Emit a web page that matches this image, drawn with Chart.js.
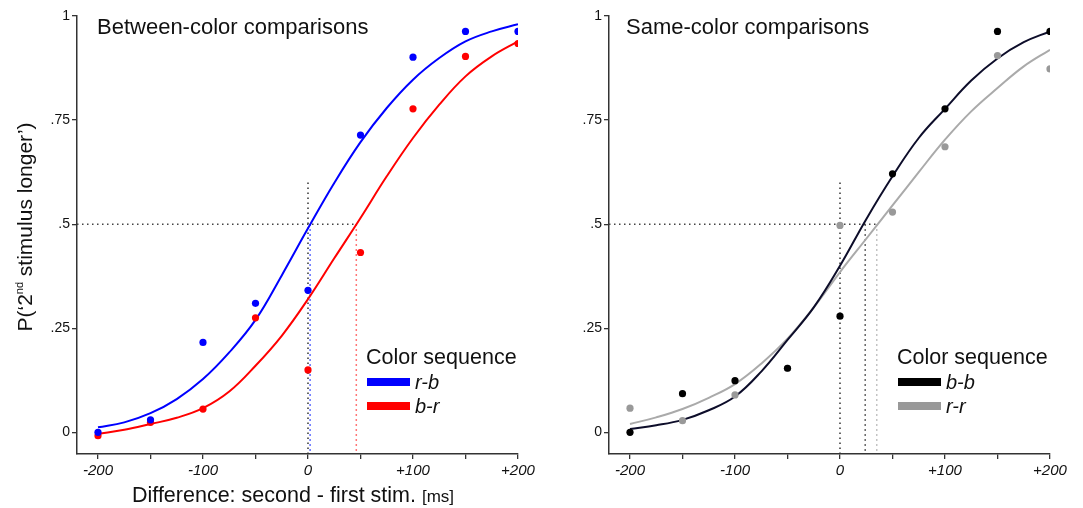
<!DOCTYPE html>
<html>
<head>
<meta charset="utf-8">
<script src="https://cdn.jsdelivr.net/npm/chart.js@4.4.1/dist/chart.umd.min.js"></script>
<style>
  body { margin: 0; background: #fff; width: 1083px; height: 508px; overflow: hidden; position: relative; }
  .panel { position: absolute; top: 0; height: 508px; }
</style>
</head>
<body>
<div class="panel" style="left:0;width:540px"><canvas id="betweenChart"></canvas></div>
<div class="panel" style="left:540px;width:543px"><canvas id="sameChart"></canvas></div>
<script>
// stimulus differences (ms) and observed proportions
const xValues = [-200, -150, -100, -50, 0, 50, 100, 150, 200];
const rbPoints = [0.0, 0.03, 0.216, 0.31, 0.341, 0.714, 0.901, 0.963, 0.963];
const brPoints = [-0.008, 0.024, 0.056, 0.275, 0.15, 0.432, 0.777, 0.903, 0.934];
const bbPoints = [0.0, 0.093, 0.124, 0.154, 0.279, 0.621, 0.777, 0.963, 0.963];
const rrPoints = [0.058, 0.028, 0.09, 0.154, 0.497, 0.529, 0.686, 0.905, 0.873];

// fitted curves, every 25 ms
const curveX = [-200, -175, -150, -125, -100, -75, -50, -25, 0, 25, 50, 75, 100, 125, 150, 175, 200];
const rbCurve = [0.012, 0.024, 0.046, 0.08, 0.128, 0.192, 0.27, 0.377, 0.49, 0.599, 0.697, 0.779, 0.847, 0.899, 0.939, 0.963, 0.98];
const brCurve = [-0.004, 0.006, 0.02, 0.035, 0.058, 0.098, 0.16, 0.232, 0.32, 0.418, 0.515, 0.615, 0.707, 0.787, 0.855, 0.903, 0.939];
const bbCurve = [0.008, 0.017, 0.03, 0.053, 0.086, 0.146, 0.222, 0.3, 0.4, 0.512, 0.615, 0.707, 0.777, 0.845, 0.898, 0.937, 0.963];
const rrCurve = [0.02, 0.036, 0.056, 0.083, 0.116, 0.165, 0.225, 0.3, 0.385, 0.465, 0.545, 0.625, 0.703, 0.771, 0.827, 0.879, 0.919];

// points of subjective equality (curve crosses .5)
const betweenPSE = [2, 46];
const samePSE = [24, 35];
const refLevel = 0.5;
const zeroLineTop = 0.6;

const xTicks = [-200, -150, -100, -50, 0, 50, 100, 150, 200];
const xTickLabels = ['-200', '', '-100', '', '0', '', '+100', '', '+200'];
const yTicks = [0, 0.25, 0.5, 0.75, 1];
const yTickLabels = ['0', '.25', '.5', '.75', '1'];
const xMin = -220, xMax = 200, yMin = -0.052, yMax = 1;

const FONT = "'Liberation Sans', Arial, sans-serif";

function pts(xs, ys) { return xs.map((x, i) => ({ x: x, y: ys[i] })); }

function dotSet(label, xs, ys, color) {
  return { label: label, data: pts(xs, ys), pointRadius: 3.6, pointBackgroundColor: color, pointBorderWidth: 0, showLine: false };
}
function curveSet(label, ys, color) {
  return { label: label, data: pts(curveX, ys), borderColor: color, borderWidth: 2, pointRadius: 0, showLine: true, tension: 0.4 };
}
function dotted(data, color) {
  return { data: data, borderColor: color, borderWidth: 1.5, borderDash: [1.5, 3.5], pointRadius: 0, showLine: true };
}

function textPlugin(cfg) {
  return {
    id: 'texts',
    afterDraw(chart) {
      const ctx = chart.ctx;
      ctx.save();
      ctx.fillStyle = '#111';
      ctx.textBaseline = 'alphabetic';
      ctx.textAlign = 'left';
      ctx.font = '22px ' + FONT;
      ctx.fillText(cfg.title, cfg.titleX, 34);
      // legend
      ctx.font = '21.5px ' + FONT;
      ctx.fillText('Color sequence', cfg.legendX, 364);
      cfg.legend.forEach((item, i) => {
        const cy = 382 + i * 24;
        ctx.fillStyle = item.color;
        ctx.fillRect(cfg.legendX + 1, cy - 4, 43, 8);
        ctx.fillStyle = '#111';
        ctx.font = 'italic 20px ' + FONT;
        ctx.fillText(item.label, cfg.legendX + 49, cy + 7);
      });
      if (cfg.axisTitles) {
        ctx.font = '21.5px ' + FONT;
        const t1 = 'Difference: second - first stim.';
        ctx.fillText(t1, 132, 502);
        const w1 = ctx.measureText(t1 + ' ').width;
        ctx.font = '17px ' + FONT;
        ctx.fillText('[ms]', 132 + w1, 502);
        // y title, rotated, with superscript
        ctx.translate(32, 227);
        ctx.rotate(-Math.PI / 2);
        const a = 'P(\u20182', b = 'nd', c = ' stimulus longer\u2019)';
        ctx.font = '21px ' + FONT;
        const wa = ctx.measureText(a).width, wc = ctx.measureText(c).width;
        ctx.font = '11px ' + FONT;
        const wb = ctx.measureText(b).width;
        let x0 = -(wa + wb + wc) / 2;
        ctx.font = '21px ' + FONT;
        ctx.fillText(a, x0, 0);
        ctx.font = '11px ' + FONT;
        ctx.fillText(b, x0 + wa, -9);
        ctx.font = '21px ' + FONT;
        ctx.fillText(c, x0 + wa + wb, 0);
      }
      ctx.restore();
    }
  };
}

function scalesFor(yWidth) {
  return {
    x: {
      type: 'linear', min: xMin, max: xMax,
      afterBuildTicks: s => { s.ticks = xTicks.map(v => ({ value: v })); },
      afterFit: s => { s.height = 54; },
      ticks: { autoSkip: false, maxRotation: 0, padding: 3, color: '#111',
        font: { family: FONT, size: 15, style: 'italic' },
        callback: (v, i) => xTickLabels[i] },
      grid: { drawOnChartArea: false, drawTicks: true, tickLength: 5, color: '#333', lineWidth: 1.3 },
      border: { display: true, color: '#333', width: 1.5 }
    },
    y: {
      type: 'linear', min: yMin, max: yMax,
      afterBuildTicks: s => { s.ticks = yTicks.map(v => ({ value: v })); },
      afterFit: s => { s.width = yWidth; },
      ticks: { padding: 2, color: '#111', font: { family: FONT, size: 14 },
        callback: (v, i) => yTickLabels[i] },
      grid: { drawOnChartArea: false, drawTicks: true, tickLength: 5, color: '#333', lineWidth: 1.3 },
      border: { display: true, color: '#333', width: 1.5 }
    }
  };
}

const commonOptions = (yWidth, rightPad) => ({
  responsive: true,
  maintainAspectRatio: false,
  animation: false,
  layout: { padding: { left: 0, right: rightPad, top: 16, bottom: 0 } },
  plugins: { legend: { display: false }, tooltip: { enabled: false } },
  scales: scalesFor(yWidth)
});

new Chart(document.getElementById('betweenChart'), {
  type: 'scatter',
  data: {
    datasets: [
      dotSet('r-b', xValues, rbPoints, '#0000ff'),
      dotSet('b-r', xValues, brPoints, '#ff0000'),
      curveSet('r-b fit', rbCurve, '#0000ff'),
      curveSet('b-r fit', brCurve, '#ff0000'),
      dotted([{ x: xMin, y: refLevel }, { x: Math.max(...betweenPSE), y: refLevel }], '#444'),
      dotted([{ x: 0, y: zeroLineTop }, { x: 0, y: yMin }], '#333'),
      dotted([{ x: betweenPSE[0], y: refLevel }, { x: betweenPSE[0], y: yMin }], '#2a3cff'),
      dotted([{ x: betweenPSE[1], y: refLevel }, { x: betweenPSE[1], y: yMin }], '#ff4a4a')
    ]
  },
  options: commonOptions(77, 22),
  plugins: [textPlugin({
    title: 'Between-color comparisons', titleX: 97, legendX: 366, axisTitles: true,
    legend: [{ label: 'r-b', color: '#0000ff' }, { label: 'b-r', color: '#ff0000' }]
  })]
});

new Chart(document.getElementById('sameChart'), {
  type: 'scatter',
  data: {
    datasets: [
      dotSet('b-b', xValues, bbPoints, '#000000'),
      dotSet('r-r', xValues, rrPoints, '#999999'),
      curveSet('b-b fit', bbCurve, '#0d0d2a'),
      curveSet('r-r fit', rrCurve, '#aaaaaa'),
      dotted([{ x: xMin, y: refLevel }, { x: Math.max(...samePSE), y: refLevel }], '#444'),
      dotted([{ x: 0, y: zeroLineTop }, { x: 0, y: yMin }], '#333'),
      dotted([{ x: samePSE[0], y: refLevel }, { x: samePSE[0], y: yMin }], '#333'),
      dotted([{ x: samePSE[1], y: refLevel }, { x: samePSE[1], y: yMin }], '#b0b0b0')
    ]
  },
  options: commonOptions(69, 33),
  plugins: [textPlugin({
    title: 'Same-color comparisons', titleX: 86, legendX: 357, axisTitles: false,
    legend: [{ label: 'b-b', color: '#000000' }, { label: 'r-r', color: '#999999' }]
  })]
});
</script>
</body>
</html>
